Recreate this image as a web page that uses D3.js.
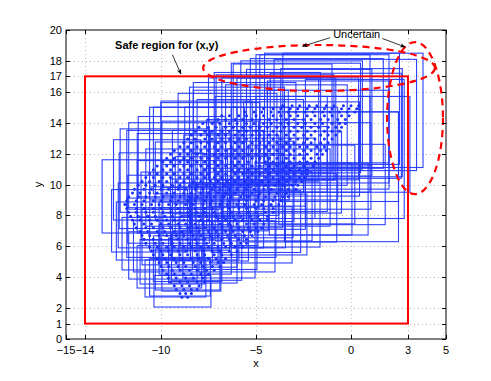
<!DOCTYPE html>
<html>
<head>
	<script src="https://cdn.jsdelivr.net/npm/d3@7"></script>
	<style>
		body { margin: 0; background: #fff; }
		text { font-family: "Liberation Sans", Arial, Helvetica, sans-serif; }
	</style>
</head>
<body>
	<div id="chart"></div>
	<script>
		// tick labels
		var xTicks = [-15, -14, -10, -5, 0, 3, 5];
		var yTicks = [0, 1, 2, 4, 6, 8, 10, 12, 14, 16, 17, 18, 20];

		// safe region (x0, x1, y0, y1)
		var safeRegion = [-14, 3, 1, 17];

		// uncertainty boxes: [cx, cy, halfWidth, halfHeight]
		var boxes = [
			[-8.87, 3.09, 1.5, 1.02], [-9.24, 3.92, 1.6, 1.2], [-9.56, 4.67, 1.7, 1.37],
			[-9.9, 5.41, 1.8, 1.53], [-10.2, 6.17, 1.85, 1.7], [-10.4, 6.99, 1.95, 1.88],
			[-10.6, 7.65, 2.0, 2.02], [-10.8, 9.23, 2.3, 2.37],
			[-8.6, 4.5, 1.7, 1.33], [-7.8, 5.08, 1.8, 1.46], [-6.95, 5.5, 1.9, 1.55],
			[-6.0, 6.0, 2.0, 1.66], [-5.2, 6.74, 2.1, 1.82], [-4.57, 7.41, 2.25, 1.97],
			[-3.98, 8.06, 2.35, 2.11], [-3.2, 8.49, 2.45, 2.21], [-2.5, 9.06, 2.55, 2.33],
			[-1.7, 9.06, 2.6, 2.33],
			[0.1, 14.8, 3.69, 3.7], [-0.3, 14.5, 3.75, 3.6], [-2.9, 14.3, 3.4, 3.55],
			[-0.5, 14.0, 3.2, 3.5], [-4.0, 13.7, 3.1, 3.4], [-5.6, 13.3, 2.7, 3.3],
			[-1.2, 13.4, 3.2, 3.3], [-6.5, 12.8, 2.6, 3.1], [-8.1, 12.0, 2.5, 3.0],
			[-9.3, 11.2, 2.4, 2.8], [-10.2, 10.3, 2.3, 2.6], [-2.0, 12.6, 3.0, 3.1],
			[-3.5, 12.0, 2.8, 3.0], [-5.0, 11.4, 2.6, 2.8], [-7.0, 10.8, 2.4, 2.7],
			[-0.6, 11.8, 3.1, 2.9], [-8.5, 9.8, 2.3, 2.5], [-6.0, 9.6, 2.4, 2.4],
			[-4.5, 10.4, 2.6, 2.6],
			[-8.2, 5.8, 1.9, 1.6], [-9.0, 6.6, 2.0, 1.8], [-7.4, 6.9, 2.0, 1.85],
			[-8.5, 7.8, 2.1, 2.05], [-6.8, 8.0, 2.2, 2.1], [-9.6, 8.4, 2.15, 2.2],
			[-7.6, 9.0, 2.3, 2.3], [-5.4, 8.8, 2.35, 2.25], [-9.8, 10.9, 2.35, 2.7],
			[-7.9, 10.2, 2.4, 2.55], [-6.3, 10.6, 2.5, 2.6], [-3.2, 10.8, 2.7, 2.65],
			[-5.3, 12.5, 2.8, 3.0], [-7.4, 12.3, 2.6, 3.0], [-2.8, 13.6, 3.2, 3.3],
			[-3.8, 13.6, 3.0, 3.3], [-5.8, 13.0, 2.5, 3.1], [-1.8, 14.6, 3.5, 3.55],
			[-7.6, 12.6, 2.4, 2.8],
			[-0.5, 10.5, 3.0, 4.2], [0.2, 12.3, 2.6, 4.5],
			[-9.0, 4.0, 1.6, 1.22], [-8.4, 4.4, 1.55, 1.3], [-9.4, 5.0, 1.7, 1.44],
			[-8.6, 5.2, 1.8, 1.48], [-7.6, 5.3, 1.85, 1.5], [-9.6, 6.0, 1.85, 1.66],
			[-7.0, 6.2, 2.05, 1.7], [-8.0, 6.4, 2.0, 1.75], [-9.8, 7.2, 2.0, 1.92],
			[-8.0, 7.0, 2.1, 1.88], [-6.2, 7.2, 2.25, 1.92], [-5.0, 7.6, 2.35, 2.0],
			[-10.2, 8.0, 2.05, 2.1], [-8.9, 8.6, 2.15, 2.2], [-7.2, 8.2, 2.3, 2.15],
			[-5.9, 8.0, 2.45, 2.1], [-4.6, 8.6, 2.55, 2.25], [-10.0, 9.6, 2.2, 2.45],
			[-9.0, 9.2, 2.25, 2.35], [-6.8, 9.4, 2.45, 2.4], [-5.0, 9.5, 2.6, 2.4],
			[-3.8, 9.8, 2.7, 2.5], [-2.6, 10.0, 2.8, 2.55], [-9.6, 11.0, 2.2, 2.5],
			[-8.8, 10.6, 2.45, 2.7], [-7.4, 11.3, 2.55, 2.8], [-5.6, 10.2, 2.6, 2.6],
			[-4.0, 11.0, 2.75, 2.75], [-1.9, 11.2, 2.95, 2.8], [-1.0, 10.0, 2.8, 2.6],
			[-8.2, 12.2, 2.2, 2.8], [-8.9, 11.8, 2.3, 2.6], [-6.0, 12.0, 2.75, 3.0],
			[-4.2, 12.6, 2.95, 3.1], [-2.6, 12.3, 3.05, 3.05], [-1.2, 12.9, 3.2, 3.2],
			[-0.2, 12.6, 3.3, 3.1], [-6.0, 13.2, 2.5, 3.1], [-4.6, 13.6, 2.9, 3.3],
			[-3.4, 13.2, 3.2, 3.25], [-2.2, 14.0, 3.3, 3.45], [-0.8, 13.8, 3.45, 3.4],
			[-3.6, 14.3, 2.6, 3.5], [-2.0, 14.8, 3.0, 3.6], [-1.4, 14.9, 3.4, 3.5],
			[-1.0, 14.9, 3.55, 3.6], [-4.4, 13.9, 2.8, 3.35], [-2.6, 14.5, 3.2, 3.5]
		];

		// sample points, one row per y level
		var dotY = [2.7, 3.2, 3.7, 4.2, 4.7, 5.2, 5.7, 6.2, 6.7, 7.2, 7.7, 8.2, 8.7,
			9.2, 9.7, 10.2, 10.7, 11.2, 11.7, 12.2, 12.7, 13.2, 13.7, 14.2, 14.7, 15.1,
			2.95, 3.45, 3.95, 4.45, 4.95, 5.45, 5.95, 6.45, 6.95, 7.45, 7.95, 8.45, 8.95,
			9.45, 9.95, 10.45, 10.95, 11.45, 11.95, 12.45, 12.95, 13.45, 13.95, 14.45, 14.9];
		var dotX = [
			[-8.9, -8.6],
			[-9.2, -8.8, -8.4, -8.1],
			[-9.5, -9.0, -8.6, -8.1, -7.7],
			[-9.7, -9.3, -8.8, -8.4, -7.9, -7.5],
			[-10.0, -9.6, -9.1, -8.7, -8.2, -7.8, -7.3, -6.9],
			[-10.2, -9.8, -9.3, -8.9, -8.4, -8.0, -7.5, -7.1, -6.6],
			[-10.5, -10.0, -9.6, -9.1, -8.7, -8.2, -7.8, -7.3, -6.9, -6.4, -6.0],
			[-10.8, -10.3, -9.9, -9.4, -9.0, -8.5, -8.1, -7.6, -7.2, -6.7, -6.3, -5.8, -5.5],
			[-11.0, -10.6, -10.1, -9.7, -9.2, -8.8, -8.3, -7.9, -7.4, -7.0, -6.5, -6.1, -5.6, -5.2],
			[-11.3, -10.8, -10.4, -9.9, -9.5, -9.0, -8.6, -8.1, -7.7, -7.2, -6.8, -6.3, -5.9, -5.4, -5.0, -4.7],
			[-11.5, -11.1, -10.6, -10.2, -9.7, -9.3, -8.8, -8.4, -7.9, -7.5, -7.0, -6.6, -6.1, -5.7, -5.2, -4.8, -4.4],
			[-11.7, -11.3, -10.8, -10.4, -9.9, -9.5, -9.0, -8.6, -8.1, -7.7, -7.2, -6.8, -6.3, -5.9, -5.4, -5.0, -4.5, -4.1],
			[-11.9, -11.4, -11.0, -10.5, -10.1, -9.6, -9.2, -8.7, -8.3, -7.8, -7.4, -6.9, -6.5, -6.0, -5.6, -5.1, -4.7, -4.2, -3.8],
			[-11.7, -11.2, -10.8, -10.3, -9.9, -9.4, -9.0, -8.5, -8.1, -7.6, -7.2, -6.7, -6.3, -5.8, -5.4, -4.9, -4.5, -4.0, -3.6, -3.3],
			[-11.4, -10.9, -10.5, -10.0, -9.6, -9.1, -8.7, -8.2, -7.8, -7.3, -6.9, -6.4, -6.0, -5.5, -5.1, -4.6, -4.2, -3.7, -3.3, -2.9],
			[-11.0, -10.6, -10.1, -9.7, -9.2, -8.8, -8.3, -7.9, -7.4, -7.0, -6.5, -6.1, -5.6, -5.2, -4.7, -4.3, -3.8, -3.4, -2.9, -2.6],
			[-10.6, -10.2, -9.7, -9.3, -8.8, -8.4, -7.9, -7.5, -7.0, -6.6, -6.1, -5.7, -5.2, -4.8, -4.3, -3.9, -3.4, -3.0, -2.6, -2.3],
			[-10.2, -9.7, -9.3, -8.8, -8.4, -7.9, -7.5, -7.0, -6.6, -6.1, -5.7, -5.2, -4.8, -4.3, -3.9, -3.4, -3.0, -2.5, -2.0],
			[-9.7, -9.3, -8.8, -8.4, -7.9, -7.5, -7.0, -6.6, -6.1, -5.7, -5.2, -4.8, -4.3, -3.9, -3.4, -3.0, -2.5, -2.1, -1.7],
			[-9.3, -8.8, -8.4, -7.9, -7.5, -7.0, -6.6, -6.1, -5.7, -5.2, -4.8, -4.3, -3.9, -3.4, -3.0, -2.5, -2.1, -1.6, -1.3],
			[-8.8, -8.4, -7.9, -7.5, -7.0, -6.6, -6.1, -5.7, -5.2, -4.8, -4.3, -3.9, -3.4, -3.0, -2.5, -2.1, -1.6, -1.2],
			[-8.4, -7.9, -7.5, -7.0, -6.6, -6.1, -5.7, -5.2, -4.8, -4.3, -3.9, -3.4, -3.0, -2.5, -2.1, -1.6, -1.2, -0.8],
			[-8.0, -7.5, -7.1, -6.6, -6.2, -5.7, -5.3, -4.8, -4.4, -3.9, -3.5, -3.0, -2.6, -2.1, -1.7, -1.2, -0.8, -0.5],
			[-7.5, -7.0, -6.6, -6.1, -5.7, -5.2, -4.8, -4.3, -3.9, -3.4, -3.0, -2.5, -2.1, -1.6, -1.2, -0.7, -0.3],
			[-5.6, -5.1, -4.7, -4.2, -3.8, -3.3, -2.9, -2.4, -2.0, -1.5, -1.1, -0.6, -0.2, 0.2],
			[-3.6, -3.1, -2.7, -2.2, -1.8, -1.3, -0.9, -0.4, 0.0, 0.4],
			[-9.0, -8.7, -8.4],
			[-9.3, -8.9, -8.5, -8.0],
			[-9.6, -9.2, -8.7, -8.3, -7.8],
			[-9.9, -9.4, -9.0, -8.5, -8.1, -7.6, -7.2],
			[-10.1, -9.7, -9.2, -8.8, -8.3, -7.9, -7.4, -7.0, -6.7],
			[-10.4, -9.9, -9.5, -9.0, -8.6, -8.1, -7.7, -7.2, -6.8, -6.3],
			[-10.6, -10.2, -9.7, -9.3, -8.8, -8.4, -7.9, -7.5, -7.0, -6.6, -6.1, -5.7],
			[-10.9, -10.4, -10.0, -9.5, -9.1, -8.6, -8.2, -7.7, -7.3, -6.8, -6.4, -5.9, -5.5],
			[-11.1, -10.7, -10.2, -9.8, -9.3, -8.9, -8.4, -8.0, -7.5, -7.1, -6.6, -6.2, -5.7, -5.3, -4.9],
			[-11.4, -10.9, -10.5, -10.0, -9.6, -9.1, -8.7, -8.2, -7.8, -7.3, -6.9, -6.4, -6.0, -5.5, -5.1, -4.6],
			[-11.6, -11.2, -10.7, -10.3, -9.8, -9.4, -8.9, -8.5, -8.0, -7.6, -7.1, -6.7, -6.2, -5.8, -5.3, -4.9, -4.4],
			[-11.8, -11.3, -10.9, -10.4, -10.0, -9.5, -9.1, -8.6, -8.2, -7.7, -7.3, -6.8, -6.4, -5.9, -5.5, -5.0, -4.6, -4.1],
			[-11.8, -11.3, -10.9, -10.4, -10.0, -9.5, -9.1, -8.6, -8.2, -7.7, -7.3, -6.8, -6.4, -5.9, -5.5, -5.0, -4.6, -4.1, -3.7],
			[-11.5, -11.1, -10.6, -10.2, -9.7, -9.3, -8.8, -8.4, -7.9, -7.5, -7.0, -6.6, -6.1, -5.7, -5.2, -4.8, -4.3, -3.9, -3.4],
			[-11.2, -10.8, -10.3, -9.9, -9.4, -9.0, -8.5, -8.1, -7.6, -7.2, -6.7, -6.3, -5.8, -5.4, -4.9, -4.5, -4.0, -3.6, -3.1, -2.8],
			[-10.8, -10.4, -9.9, -9.5, -9.0, -8.6, -8.1, -7.7, -7.2, -6.8, -6.3, -5.9, -5.4, -5.0, -4.5, -4.1, -3.6, -3.2, -2.7, -2.4],
			[-10.4, -9.9, -9.5, -9.0, -8.6, -8.1, -7.7, -7.2, -6.8, -6.3, -5.9, -5.4, -5.0, -4.5, -4.1, -3.6, -3.2, -2.7, -2.3],
			[-9.9, -9.5, -9.0, -8.6, -8.1, -7.7, -7.2, -6.8, -6.3, -5.9, -5.4, -5.0, -4.5, -4.1, -3.6, -3.2, -2.7, -2.3, -1.9],
			[-9.5, -9.0, -8.6, -8.1, -7.7, -7.2, -6.8, -6.3, -5.9, -5.4, -5.0, -4.5, -4.1, -3.6, -3.2, -2.7, -2.3, -1.8, -1.5],
			[-9.0, -8.6, -8.1, -7.7, -7.2, -6.8, -6.3, -5.9, -5.4, -5.0, -4.5, -4.1, -3.6, -3.2, -2.7, -2.3, -1.8, -1.4],
			[-8.6, -8.2, -7.7, -7.3, -6.8, -6.4, -5.9, -5.5, -5.0, -4.6, -4.1, -3.7, -3.2, -2.8, -2.3, -1.9, -1.4, -1.0],
			[-8.2, -7.7, -7.3, -6.8, -6.4, -5.9, -5.5, -5.0, -4.6, -4.1, -3.7, -3.2, -2.8, -2.3, -1.9, -1.4, -1.0, -0.6],
			[-7.8, -7.3, -6.9, -6.4, -6.0, -5.5, -5.1, -4.6, -4.2, -3.7, -3.3, -2.8, -2.4, -1.9, -1.5, -1.0, -0.6, -0.3],
			[-6.8, -6.4, -5.9, -5.5, -5.0, -4.6, -4.1, -3.7, -3.2, -2.8, -2.3, -1.9, -1.4, -1.0, -0.5, -0.1],
			[-4.6, -4.1, -3.7, -3.2, -2.8, -2.3, -1.9, -1.4, -1.0, -0.5, -0.1, 0.3]
		];

		// dashed "uncertain" ellipses: [cx, cy, rx, ry]
		var ellipses = [[-1.68, 17.54, 6.1, 1.49], [3.37, 14.3, 1.47, 4.92]];

		var width = 491, height = 381;
		var margin = { left: 66, right: 45, top: 30, bottom: 42 };

		var svg = d3.select("#chart").append("svg")
			.attr("width", width)
			.attr("height", height);

		var x = d3.scaleLinear().domain([-15, 5]).range([margin.left, width - margin.right]);
		var y = d3.scaleLinear().domain([0, 20]).range([height - margin.bottom, margin.top]);

		var fmt = function(d) { return d < 0 ? "\u2212" + Math.abs(d) : String(d); };

		// grid
		var grid = svg.append("g").attr("stroke", "#bbb").attr("stroke-dasharray", "1,3").attr("stroke-width", 1);
		grid.selectAll(".gx").data(xTicks.slice(1, -1)).enter().append("line")
			.attr("x1", function(d) { return Math.round(x(d)) + 0.5; })
			.attr("x2", function(d) { return Math.round(x(d)) + 0.5; })
			.attr("y1", y(0)).attr("y2", y(20));
		grid.selectAll(".gy").data(yTicks.slice(1, -1)).enter().append("line")
			.attr("y1", function(d) { return Math.round(y(d)) + 0.5; })
			.attr("y2", function(d) { return Math.round(y(d)) + 0.5; })
			.attr("x1", x(-15)).attr("x2", x(5));

		// boxes
		svg.append("g").selectAll("rect").data(boxes).enter().append("rect")
			.attr("x", function(d) { return x(d[0] - d[2]); })
			.attr("y", function(d) { return y(d[1] + d[3]); })
			.attr("width", function(d) { return x(d[0] + d[2]) - x(d[0] - d[2]); })
			.attr("height", function(d) { return y(d[1] - d[3]) - y(d[1] + d[3]); })
			.attr("fill", "none")
			.attr("stroke", "#2238ff")
			.attr("stroke-opacity", 0.95)
			.attr("stroke-width", 1.1);

		// dots
		var dots = [];
		dotY.forEach(function(yy, i) {
			dotX[i].forEach(function(xx) { dots.push([xx, yy]); });
		});
		svg.append("g").selectAll("circle").data(dots).enter().append("circle")
			.attr("cx", function(d) { return x(d[0]); })
			.attr("cy", function(d) { return y(d[1]); })
			.attr("r", 1.5)
			.attr("fill", "#1a30ff");

		// safe region
		svg.append("rect")
			.attr("x", x(safeRegion[0]))
			.attr("y", y(safeRegion[3]))
			.attr("width", x(safeRegion[1]) - x(safeRegion[0]))
			.attr("height", y(safeRegion[2]) - y(safeRegion[3]))
			.attr("fill", "none")
			.attr("stroke", "#ff0000")
			.attr("stroke-width", 2);

		// ellipses
		svg.append("g").selectAll("ellipse").data(ellipses).enter().append("ellipse")
			.attr("cx", function(d) { return x(d[0]); })
			.attr("cy", function(d) { return y(d[1]); })
			.attr("rx", function(d) { return x(d[0] + d[2]) - x(d[0]); })
			.attr("ry", function(d) { return y(d[1] - d[3]) - y(d[1]); })
			.attr("fill", "none")
			.attr("stroke", "#ff0000")
			.attr("stroke-width", 2.2)
			.attr("stroke-dasharray", "7,5");

		// axes frame
		svg.append("rect")
			.attr("x", x(-15)).attr("y", y(20))
			.attr("width", x(5) - x(-15)).attr("height", y(0) - y(20))
			.attr("fill", "none").attr("stroke", "#000").attr("stroke-width", 1);

		var ticks = svg.append("g").attr("stroke", "#000").attr("stroke-width", 1);
		xTicks.forEach(function(t) {
			var px = Math.round(x(t)) + 0.5;
			ticks.append("line").attr("x1", px).attr("x2", px).attr("y1", y(0)).attr("y2", y(0) - 4);
			ticks.append("line").attr("x1", px).attr("x2", px).attr("y1", y(20)).attr("y2", y(20) + 4);
		});
		yTicks.forEach(function(t) {
			var py = Math.round(y(t)) + 0.5;
			ticks.append("line").attr("y1", py).attr("y2", py).attr("x1", x(-15)).attr("x2", x(-15) + 4);
			ticks.append("line").attr("y1", py).attr("y2", py).attr("x1", x(5)).attr("x2", x(5) - 4);
		});

		svg.append("g").selectAll("text").data(xTicks).enter().append("text")
			.attr("x", function(d) { return x(d); })
			.attr("y", y(0) + 15)
			.attr("text-anchor", "middle")
			.attr("font-size", 11)
			.text(fmt);

		svg.append("g").selectAll("text").data(yTicks).enter().append("text")
			.attr("x", x(-15) - 4)
			.attr("y", function(d) { return y(d) + 4; })
			.attr("text-anchor", "end")
			.attr("font-size", 11)
			.text(fmt);

		svg.append("text").attr("x", (x(-15) + x(5)) / 2).attr("y", y(0) + 28)
			.attr("text-anchor", "middle").attr("font-size", 11).text("x");
		svg.append("text")
			.attr("transform", "translate(" + (x(-15) - 24) + "," + y(10) + ") rotate(-90)")
			.attr("text-anchor", "middle").attr("font-size", 11).text("y");

		// annotations
		var defs = svg.append("defs");
		defs.append("marker").attr("id", "head")
			.attr("viewBox", "0 0 10 10").attr("refX", 9).attr("refY", 5)
			.attr("markerWidth", 7).attr("markerHeight", 7).attr("orient", "auto")
			.append("path").attr("d", "M0,1 L10,5 L0,9 L3,5 Z").attr("fill", "#000");

		svg.append("text").attr("x", x(-9.7)).attr("y", y(18.75))
			.attr("text-anchor", "middle").attr("font-size", 11).attr("font-weight", "bold")
			.text("Safe region for (x,y)");
		svg.append("line")
			.attr("x1", x(-9.4)).attr("y1", y(18.4))
			.attr("x2", x(-8.95)).attr("y2", y(17.15))
			.attr("stroke", "#000").attr("stroke-width", 0.8).attr("marker-end", "url(#head)");

		svg.append("text").attr("x", x(0.3)).attr("y", y(19.45))
			.attr("text-anchor", "middle").attr("font-size", 11)
			.text("Uncertain");
		svg.append("line")
			.attr("x1", x(-1.1)).attr("y1", y(19.5))
			.attr("x2", x(-2.55)).attr("y2", y(18.95))
			.attr("stroke", "#000").attr("stroke-width", 0.8).attr("marker-end", "url(#head)");
		svg.append("line")
			.attr("x1", x(1.65)).attr("y1", y(19.45))
			.attr("x2", x(2.85)).attr("y2", y(18.9))
			.attr("stroke", "#000").attr("stroke-width", 0.8).attr("marker-end", "url(#head)");
	</script>
</body>
</html>
